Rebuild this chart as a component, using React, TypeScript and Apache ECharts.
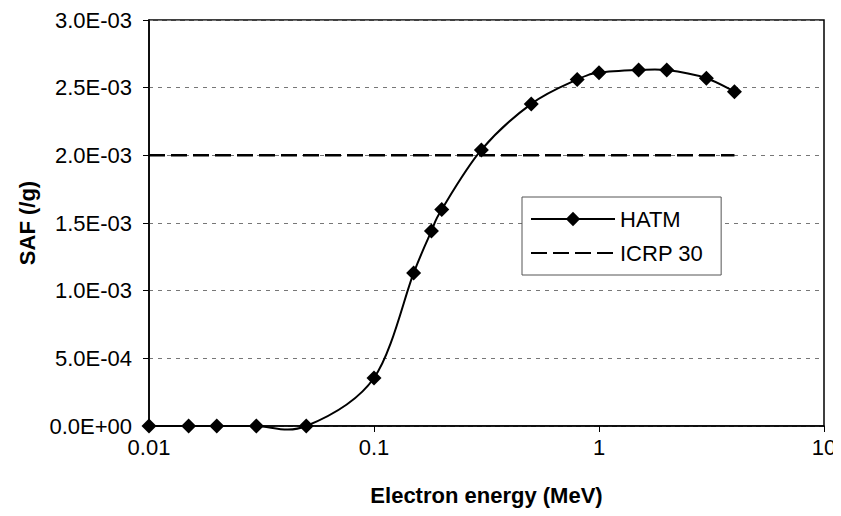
import React, { useEffect, useRef } from "react";
import * as echarts from "echarts";

const energies = [0.01, 0.015, 0.02, 0.03, 0.05, 0.1, 0.15, 0.18, 0.2, 0.3, 0.5, 0.8, 1, 1.5, 2, 3, 4];
const hatmSaf = [0, 0, 0, 0, 0, 0.000355, 0.00113, 0.00144, 0.0016, 0.00204, 0.00238, 0.00256, 0.00261, 0.00263, 0.00263, 0.00257, 0.00247];
const icrpEnergies = [0.01, 4];
const icrpSaf = [0.002, 0.002];

function fmtSci(v: number): string {
  if (v === 0) return "0.0E+00";
  const exp = Math.floor(Math.log10(Math.abs(v)) + 1e-9);
  const mant = v / Math.pow(10, exp);
  const sign = exp < 0 ? "-" : "+";
  const e = Math.abs(exp).toString().padStart(2, "0");
  return mant.toFixed(1) + "E" + sign + e;
}

export default function App() {
  const ref = useRef<HTMLDivElement>(null);
  useEffect(() => {
    if (!ref.current) return;
    const chart = echarts.init(ref.current, undefined, { renderer: "svg" });
    const font = "Liberation Sans";
    const fs = 22;
    const renderCurve = (params: any, api: any) => {
      const pts = energies.map((e, i) => api.coord([e, hatmSaf[i]]));
      const n = pts.length;
      let d = `M${pts[0][0]},${pts[0][1]}`;
      for (let i = 0; i < n - 1; i++) {
        const p0 = pts[Math.max(i - 1, 0)];
        const p1 = pts[i];
        const p2 = pts[i + 1];
        const p3 = pts[Math.min(i + 2, n - 1)];
        const c1x = p1[0] + (p2[0] - p0[0]) / 6;
        const c1y = p1[1] + (p2[1] - p0[1]) / 6;
        const c2x = p2[0] - (p3[0] - p1[0]) / 6;
        const c2y = p2[1] - (p3[1] - p1[1]) / 6;
        d += ` C${c1x},${c1y} ${c2x},${c2y} ${p2[0]},${p2[1]}`;
      }
      return {
        type: "path",
        shape: { pathData: d },
        style: { stroke: "#000", lineWidth: 2, fill: null },
      };
    };
    chart.setOption({
      animation: false,
      textStyle: { fontFamily: font },
      grid: { left: 149, right: 17, top: 20, bottom: 90, show: true, borderColor: "#000", borderWidth: 1.5 },
      legend: {
        orient: "vertical",
        left: 522,
        top: 197,
        borderColor: "#555",
        borderWidth: 1,
        backgroundColor: "#fff",
        padding: [11, 18, 11, 8],
        itemGap: 12,
        itemWidth: 84,
        itemHeight: 18,
        textStyle: { fontSize: fs, color: "#000", fontFamily: font },
        data: [
          { name: "HATM", lineStyle: { color: "#000", width: 2, opacity: 1 } },
          { name: "ICRP 30", itemStyle: { opacity: 0 } },
        ],
      },
      xAxis: {
        type: "log",
        logBase: 10,
        min: 0.01,
        max: 10,
        name: "Electron energy (MeV)",
        nameLocation: "middle",
        nameGap: 58,
        nameTextStyle: { fontSize: fs, fontWeight: "bold", color: "#000", fontFamily: font },
        axisLine: { lineStyle: { color: "#000", width: 1.5 } },
        axisTick: { show: true, length: 6, lineStyle: { color: "#000" } },
        minorTick: { show: false },
        splitLine: { show: false },
        axisLabel: {
          fontSize: fs,
          fontFamily: font,
          color: "#000",
          margin: 10,
          formatter: (v: number) => String(Number(v.toPrecision(3))),
        },
      },
      yAxis: {
        type: "value",
        min: 0,
        max: 0.003,
        interval: 0.0005,
        name: "SAF (/g)",
        nameLocation: "middle",
        nameGap: 108,
        nameTextStyle: { fontSize: fs, fontWeight: "bold", color: "#000", fontFamily: font },
        axisLine: { show: true, lineStyle: { color: "#000", width: 1.5 } },
        axisTick: { show: true, length: 6, lineStyle: { color: "#000" } },
        splitLine: { show: true, lineStyle: { color: "#777", type: [4, 5], width: 1.2 } },
        axisLabel: { fontSize: fs, fontFamily: font, color: "#000", margin: 17, formatter: (v: number) => fmtSci(v) },
      },
      series: [
        {
          name: "HATM curve",
          type: "custom",
          renderItem: renderCurve,
          data: [[energies[0], hatmSaf[0]]],
          silent: true,
          z: 2.5,
        },
        {
          name: "HATM",
          type: "line",
          data: energies.map((e, i) => [e, hatmSaf[i]]),
          symbol: "diamond",
          symbolSize: 15,
          itemStyle: { color: "#000" },
          lineStyle: { color: "#000", width: 2, opacity: 0 },
          z: 3,
        },
        {
          name: "ICRP 30",
          type: "line",
          data: icrpEnergies.map((e, i) => [e, icrpSaf[i]]),
          symbol: "none",
          itemStyle: { color: "#000" },
          lineStyle: { color: "#000", width: 2.5, type: [16, 6] },
          z: 2,
        },
      ],
    });
    return () => chart.dispose();
  }, []);
  return <div ref={ref} style={{ width: 841, height: 516, marginLeft: -8, marginTop: -8 }} />;
}
